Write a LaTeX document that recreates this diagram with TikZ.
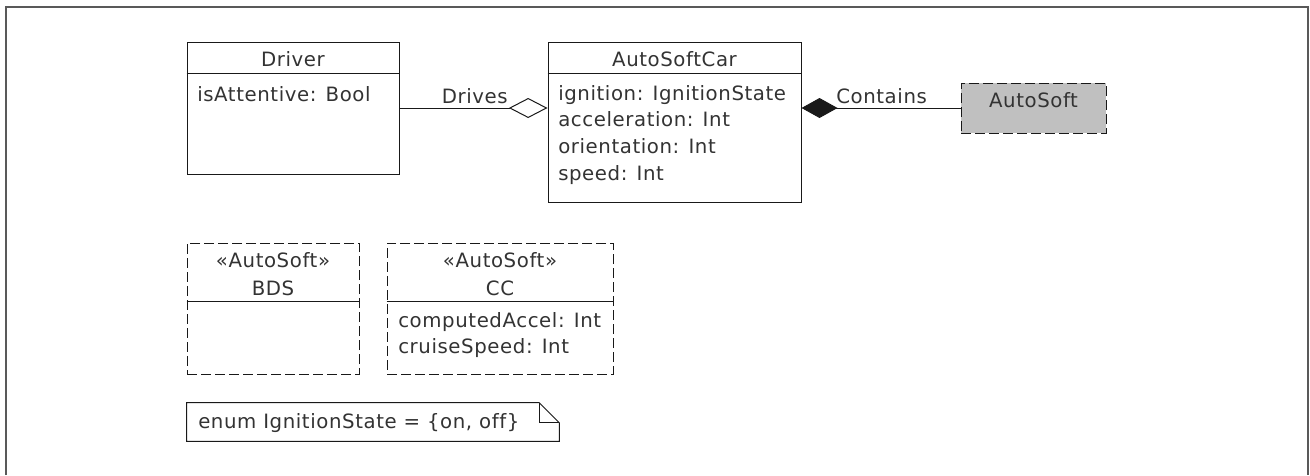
\documentclass[tikz,border=0pt]{standalone}
\usepackage{fontspec}
\setmainfont{DejaVu Sans}[LetterSpace=3, Ligatures=NoCommon]
\usetikzlibrary{positioning, arrows.meta, fit, calc}
\newcommand{\umlfont}{\fontsize{14.8pt}{20pt}\selectfont}
\definecolor{inkgray}{HTML}{333333}
\definecolor{softgray}{HTML}{C0C0C0}
\tikzset{classbox/.style={draw=black!90, line width=0.75pt, inner sep=0pt},
softbox/.style={classbox, dash pattern=on 7.5pt off 3pt},
sep/.style={draw=black!90, line width=0.75pt},
title/.style={anchor=base, inner sep=0pt, text=inkgray},
attr/.style={anchor=base west, inner sep=0pt, text=inkgray},
frame/.style={draw=black!65, line width=1pt},
aggregation/.style={{Diamond[open, length=29pt, width=15pt]}-, draw=black!90, line width=0.75pt},
composition/.style={{Diamond[length=27pt, width=15pt]}-, draw=black!90, line width=0.75pt}}

\begin{document}
\begin{tikzpicture}[x=0.75pt, y=-0.75pt, font=\umlfont]
  \useasboundingbox (0,0) rectangle (1310,475);
  % outer frame, open at the bottom
  \draw[frame] (6,475) -- (6,7) -- (1308,7) -- (1308,475);

  % Driver
  \node[classbox, fit={(187,42) (399,174)}] (driver) {};
  \node[title] (driver-name) at (driver.north |- 0,66) {Driver};
  \draw[sep] (driver.west |- 0,73) -- (driver.east |- 0,73);
  \node[attr] (driver-attr) at (197,101) {isAttentive: Bool};

  % AutoSoftCar
  \node[classbox, fit={(548,42) (801,202)}] (car) {};
  \node[title] (car-name) at (car.north |- 0,66) {AutoSoftCar};
  \draw[sep] (car.west |- 0,73) -- (car.east |- 0,73);
  \foreach \txt [count=\i] in {ignition: IgnitionState, acceleration: Int, orientation: Int, speed: Int}
    \node[attr] (car-attr\i) at (558,{100+26.7*(\i-1)}) {\txt};

  % AutoSoft
  \node[softbox, fill=softgray, fit={(961,83) (1106,133)}] (soft) {};
  \node[title] (soft-name) at (soft.center |- 0,107) {AutoSoft};

  % associations
  \draw[aggregation] (car.west |- driver.east) -- (driver.east);
  \node[attr, anchor=base east] (drives) at (508,103) {Drives};
  \draw[composition] (car.east |- soft.west) -- (soft.west);
  \node[attr] (contains) at (836,103) {Contains};

  % BDS
  \node[softbox, fit={(187,243) (359,374)}] (bds) {};
  \node[title] (bds-stereo) at (bds.north |- 0,267) {«AutoSoft»};
  \node[title] (bds-name) at (bds.north |- 0,295) {BDS};
  \draw[sep] (bds.west |- 0,301) -- (bds.east |- 0,301);

  % CC
  \node[softbox, fit={(387,243) (613,374)}] (cc) {};
  \node[title] (cc-stereo) at (cc.north |- 0,267) {«AutoSoft»};
  \node[title] (cc-name) at (cc.north |- 0,295) {CC};
  \draw[sep] (cc.west |- 0,301) -- (cc.east |- 0,301);
  \node[attr] (cc-attr1) at (398,327) {computedAccel: Int};
  \node[attr] (cc-attr2) at (398,353.7) {cruiseSpeed: Int};

  % note with folded corner
  \node[inner sep=0pt, fit={(187,403) (559,441)}] (note) {};
  \draw[sep] (note.south west) -- (note.north west) -- ($(note.north east)+(-20,0)$)
    -- ($(note.north east)+(0,20)$) -- (note.south east) -- cycle;
  \draw[sep] ($(note.north east)+(-20,0)$) -- ($(note.north east)+(-20,20)$) -- ($(note.north east)+(0,20)$);
  \node[attr] (note-text) at (198,428) {enum IgnitionState = \{on, off\}};
\end{tikzpicture}
\end{document}
